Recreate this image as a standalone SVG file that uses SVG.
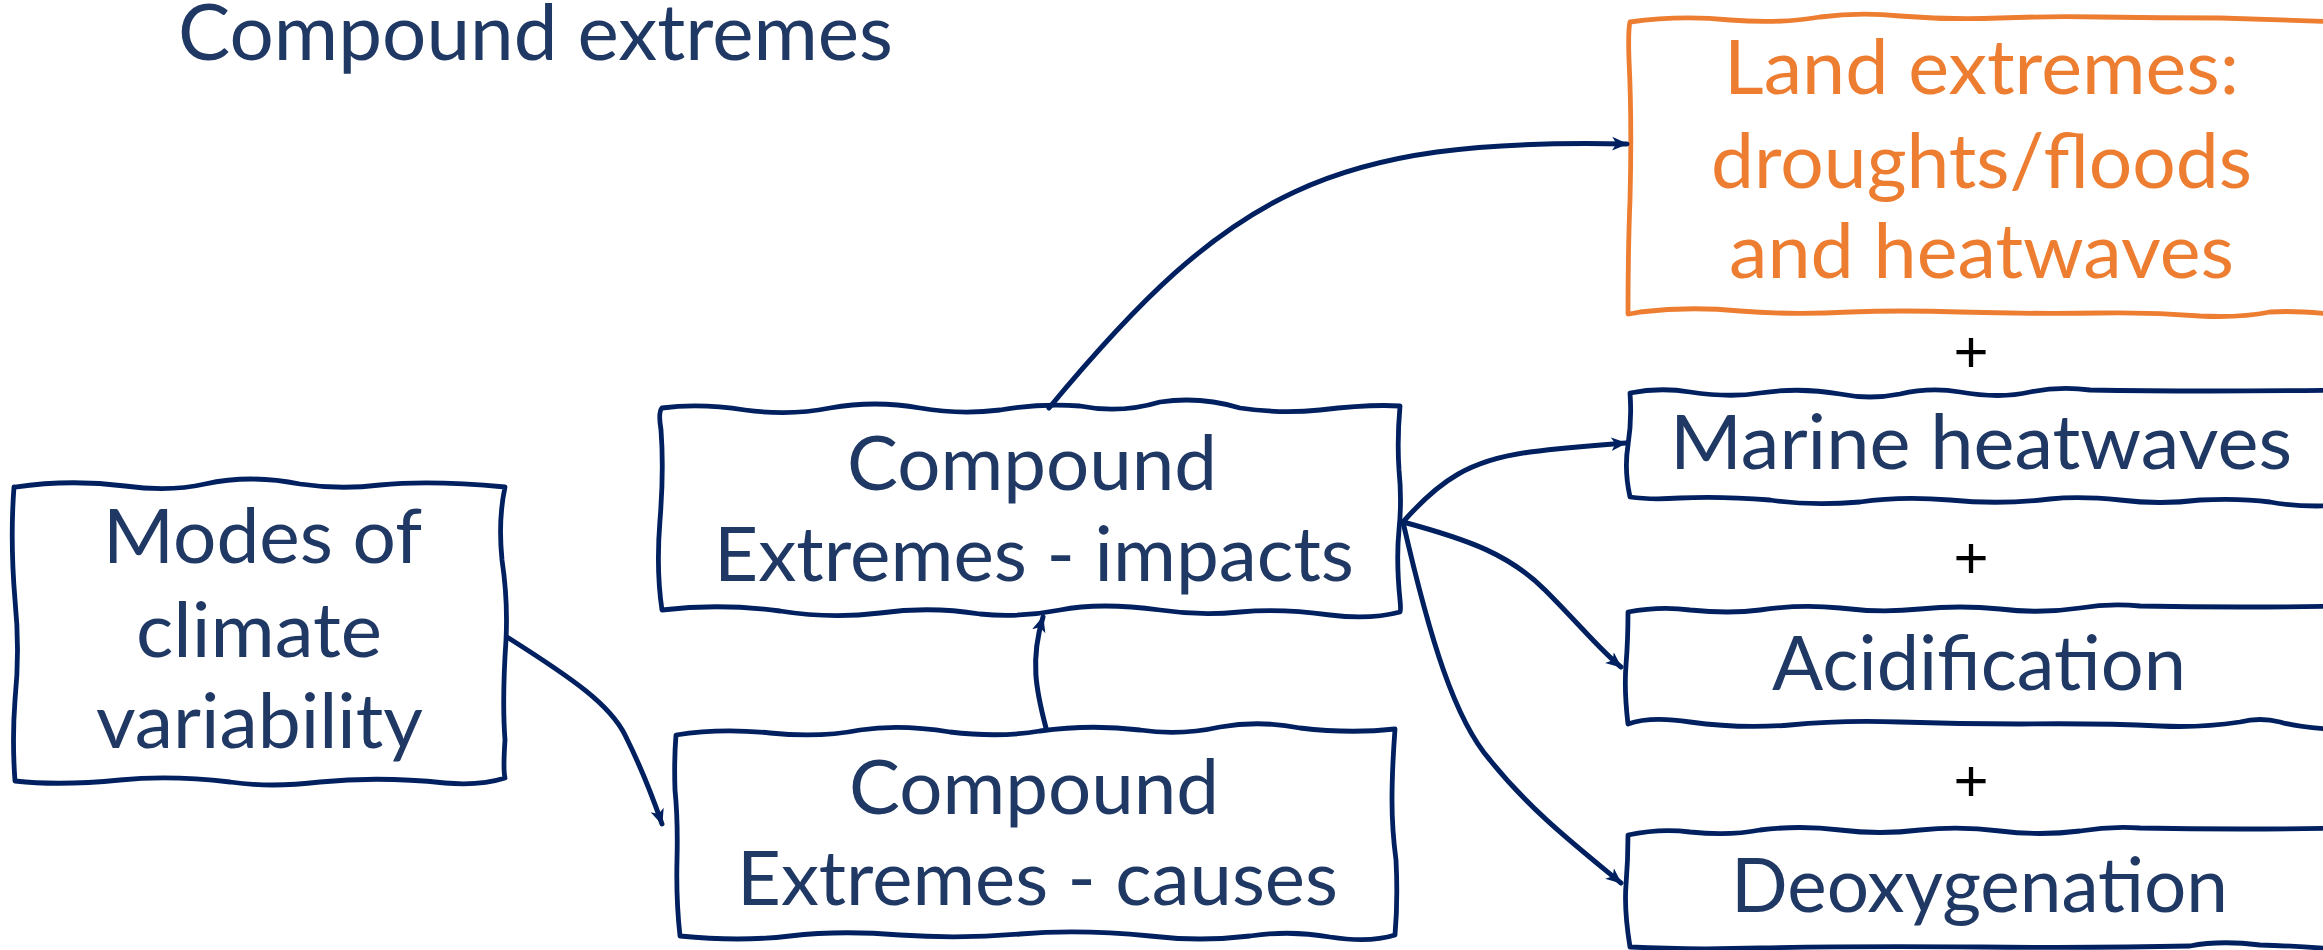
<svg xmlns="http://www.w3.org/2000/svg" width="2323" height="950" viewBox="0 0 2323 950">
<style>
.box{fill:#ffffff;stroke:#002060;stroke-width:4.8;stroke-linejoin:round;stroke-linecap:round}
.obox{fill:#ffffff;stroke:#ED7D31;stroke-width:4.8;stroke-linejoin:round;stroke-linecap:round}
.t{font-family:Lato,"Open Sans","Liberation Sans",sans-serif;font-size:76px;fill:#1F3864}
.ot{font-family:Lato,"Open Sans","Liberation Sans",sans-serif;font-size:76px;fill:#ED7D31}
.title{font-family:Lato,"Open Sans","Liberation Sans",sans-serif;font-size:77px;fill:#203864}
.plus{font-family:"Liberation Sans",Arial,sans-serif;font-size:60px;fill:#000000;text-anchor:middle}
.con{fill:none;stroke:#002060;stroke-width:5;stroke-linecap:round}
</style>
<defs>
<marker id="arr" viewBox="0 0 16 16" refX="14" refY="8" markerWidth="17" markerHeight="17" markerUnits="userSpaceOnUse" orient="auto">
<path d="M0,1.5 L15,8 L0,14.5 L4,8 Z" fill="#002060"/>
</marker>
</defs>
<rect width="2323" height="950" fill="#ffffff"/>
<text class="title" x="178" y="60" textLength="715" lengthAdjust="spacingAndGlyphs">Compound extremes</text>

<g id="node-modes">
<path class="box" d="M15,487 Q70,479 125,486 Q170,492 205,484 Q250,474 300,484 Q340,490 380,485 Q430,480 505,487 Q498,520 502,560 Q508,600 506,640 Q502,700 505,740 Q503,770 505,778 Q480,786 445,783 Q380,776 320,782 Q270,788 230,782 Q170,775 120,780 Q60,786 15,781 Q12,740 15,700 Q20,650 15,600 Q10,540 14,487 Z"/>
<text class="t" x="103" y="563" textLength="319" lengthAdjust="spacingAndGlyphs">Modes of</text>
<text class="t" x="136" y="657" textLength="246" lengthAdjust="spacingAndGlyphs">climate</text>
<text class="t" x="96" y="748" textLength="327" lengthAdjust="spacingAndGlyphs">variability</text>
</g>

<g id="node-impacts">
<path class="box" d="M662,408 Q700,403 745,410 Q790,416 830,408 Q875,400 920,408 Q960,415 1000,410 Q1040,403 1080,406 Q1120,414 1160,402 Q1200,396 1240,408 Q1280,414 1320,410 Q1370,404 1400,406 Q1397,440 1399,470 Q1402,500 1399,530 Q1396,560 1400,600 Q1401,610 1400,612 Q1370,620 1330,615 Q1280,608 1240,612 Q1200,616 1160,610 Q1100,602 1060,610 Q1020,618 980,614 Q930,606 880,613 Q830,619 780,611 Q720,603 662,610 Q656,570 660,520 Q664,470 661,430 Q658,412 662,408 Z"/>
<text class="t" x="847" y="490" textLength="370" lengthAdjust="spacingAndGlyphs">Compound</text>
<text class="t" x="714" y="581" textLength="640" lengthAdjust="spacingAndGlyphs">Extremes - impacts</text>
</g>

<g id="node-causes">
<path class="box" d="M676,735 Q720,728 770,733 Q820,738 860,730 Q900,724 950,732 Q1000,738 1040,731 Q1090,724 1140,730 Q1180,736 1220,727 Q1260,720 1300,728 Q1350,734 1395,729 Q1392,770 1392,800 Q1392,830 1396,860 Q1398,900 1395,935 Q1370,943 1330,937 Q1290,930 1250,936 Q1200,942 1150,936 Q1080,929 1020,934 Q960,939 900,935 Q840,930 790,936 Q740,942 680,936 Q676,900 677,860 Q678,820 675,790 Q674,760 676,735 Z"/>
<text class="t" x="849" y="814" textLength="370" lengthAdjust="spacingAndGlyphs">Compound</text>
<text class="t" x="737" y="905" textLength="601" lengthAdjust="spacingAndGlyphs">Extremes - causes</text>
</g>

<g id="node-land">
<path class="obox" d="M1630,22 Q1680,15 1730,20 Q1780,24 1820,17 Q1860,12 1900,16 Q1950,20 2000,18 Q2050,16 2100,17 Q2160,18 2220,18 Q2280,20 2345,22 L2345,316 Q2300,310 2270,312 Q2240,318 2200,316 Q2150,312 2100,313 Q2030,314 1960,312 Q1900,310 1850,312 Q1790,315 1740,311 Q1690,306 1640,312 Q1630,314 1628,314 Q1628,250 1630,200 Q1632,120 1629,60 Q1628,30 1630,22 Z"/>
<text class="ot" x="1724" y="94" textLength="515" lengthAdjust="spacingAndGlyphs">Land extremes:</text>
<text class="ot" x="1711" y="188" textLength="541" lengthAdjust="spacingAndGlyphs">droughts/floods</text>
<text class="ot" x="1729" y="278" textLength="505" lengthAdjust="spacingAndGlyphs">and heatwaves</text>
</g>

<g id="node-marine">
<path class="box" d="M1630,393 Q1660,387 1690,392 Q1730,398 1760,393 Q1800,387 1840,394 Q1870,400 1900,394 Q1930,387 1960,392 Q2000,399 2030,392 Q2060,386 2090,390 Q2200,392 2345,390 L2345,505 Q2300,508 2270,502 Q2240,498 2200,500 Q2160,505 2120,500 Q2080,496 2050,499 Q2000,505 1950,500 Q1900,496 1860,502 Q1810,506 1770,500 Q1720,496 1680,498 Q1650,500 1630,497 Q1624,470 1628,445 Q1632,420 1630,393 Z"/>
<text class="t" x="1670" y="469" textLength="622" lengthAdjust="spacingAndGlyphs">Marine heatwaves</text>
</g>

<g id="node-acid">
<path class="box" d="M1628,612 Q1660,606 1690,610 Q1730,614 1760,610 Q1800,604 1840,608 Q1880,613 1920,609 Q1960,605 2000,609 Q2040,614 2080,608 Q2110,603 2140,606 Q2240,608 2345,606 L2345,730 Q2300,728 2280,722 Q2260,717 2240,722 Q2200,728 2160,726 Q2100,723 2020,724 Q1960,724 1900,722 Q1840,720 1790,725 Q1740,729 1690,722 Q1650,716 1628,724 Q1624,690 1626,665 Q1628,640 1628,612 Z"/>
<text class="t" x="1772" y="690" textLength="414" lengthAdjust="spacingAndGlyphs">Acidification</text>
</g>

<g id="node-deox">
<path class="box" d="M1628,835 Q1660,828 1690,832 Q1730,836 1760,830 Q1800,825 1840,830 Q1880,835 1920,830 Q1960,826 2000,831 Q2040,836 2080,831 Q2110,826 2140,828 Q2240,830 2345,828 L2345,950 Q2300,946 2260,945 Q2220,940 2190,946 Q2100,948 1980,947 Q1850,946 1760,948 Q1690,950 1630,947 Q1624,910 1626,885 Q1628,860 1628,835 Z"/>
<text class="t" x="1731" y="912" textLength="497" lengthAdjust="spacingAndGlyphs">Deoxygenation</text>
</g>

<g id="plus-signs">
<text class="plus" x="1971" y="372">+</text>
<text class="plus" x="1971" y="578">+</text>
<text class="plus" x="1971" y="801">+</text>
</g>

<g id="connectors">
<path class="con" marker-end="url(#arr)" d="M1049,408 C1230,190 1330,138 1627,144"/>
<path class="con" marker-end="url(#arr)" d="M1046,728 C1036,690 1030,660 1043,617"/>
<path class="con" marker-end="url(#arr)" d="M507,637 C575,680 610,705 625,735 C640,765 652,795 662,824"/>
<path class="con" marker-end="url(#arr)" d="M1403,522 C1440,480 1470,460 1530,452 C1570,447 1600,445 1626,443"/>
<path class="con" marker-end="url(#arr)" d="M1403,522 C1470,540 1510,555 1545,590 C1580,625 1600,650 1621,667"/>
<path class="con" marker-end="url(#arr)" d="M1403,522 C1430,640 1455,720 1490,760 C1530,810 1575,845 1621,883"/>
</g>
</svg>
